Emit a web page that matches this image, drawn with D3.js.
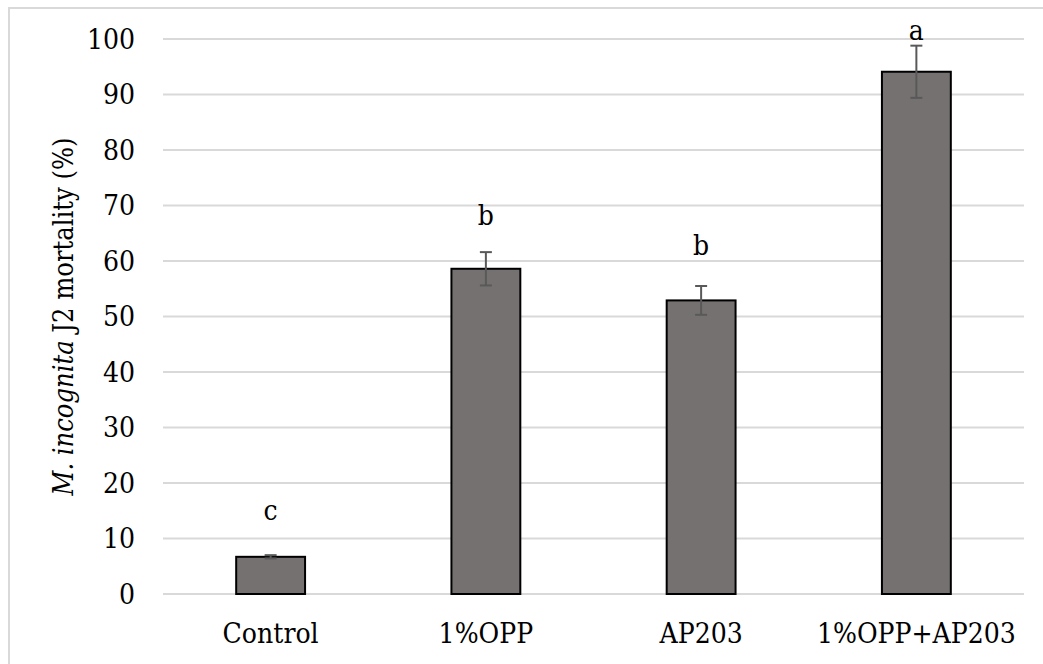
<!DOCTYPE html>
<html>
<head>
<meta charset="utf-8">
<script src="https://cdn.jsdelivr.net/npm/d3@7"></script>
<style>
  body { margin: 0; background: #fff; }
</style>
</head>
<body>
<svg id="chart" width="1043" height="664"></svg>
<script>
const categories = ["Control", "1%OPP", "AP203", "1%OPP+AP203"];
const mortality = [6.7, 58.6, 52.9, 94.1];
const errors = [0.3, 3.0, 2.6, 4.7];
const letters = ["c", "b", "b", "a"];
const letterAt = [13.4, 66.5, 61.0, 99.8];
const yTicks = [0, 10, 20, 30, 40, 50, 60, 70, 80, 90, 100];

const serif = "'DejaVu Serif Condensed', 'DejaVu Serif', serif";
const fontSize = 28;

const svg = d3.select("#chart")
  .attr("font-family", serif);

// outer chart border (only left/top visible in the picture)
svg.append("rect")
  .attr("x", 9).attr("y", 8)
  .attr("width", 1100).attr("height", 700)
  .attr("fill", "none")
  .attr("stroke", "#d9d9d9")
  .attr("stroke-width", 2);

const plotLeft = 163, plotRight = 1024, plotTop = 39, plotBottom = 594;

const x = d3.scaleBand()
  .domain(categories)
  .range([plotLeft, plotRight])
  .paddingInner(0.68)
  .paddingOuter(0.34);

const y = d3.scaleLinear()
  .domain([0, 100])
  .range([plotBottom, plotTop]);

// gridlines
svg.append("g")
  .selectAll("line")
  .data(yTicks)
  .join("line")
  .attr("x1", plotLeft).attr("x2", plotRight)
  .attr("y1", d => y(d)).attr("y2", d => y(d))
  .attr("stroke", "#d9d9d9")
  .attr("stroke-width", 2);

// y tick labels
svg.append("g")
  .selectAll("text")
  .data(yTicks)
  .join("text")
  .attr("x", 135)
  .attr("y", d => y(d))
  .attr("dy", "0.35em")
  .attr("text-anchor", "end")
  .attr("font-size", fontSize)
  .text(d => d);

// bars
svg.append("g")
  .selectAll("rect")
  .data(categories)
  .join("rect")
  .attr("x", d => x(d))
  .attr("y", (d, i) => y(mortality[i]))
  .attr("width", x.bandwidth())
  .attr("height", (d, i) => y(0) - y(mortality[i]))
  .attr("fill", "#767171")
  .attr("stroke", "#000")
  .attr("stroke-width", 2);

// error bars
const eb = svg.append("g")
  .attr("stroke", "#595959")
  .attr("stroke-width", 2);

categories.forEach((c, i) => {
  const cx = x(c) + x.bandwidth() / 2;
  const hi = y(mortality[i] + errors[i]);
  const lo = y(mortality[i] - errors[i]);
  eb.append("line").attr("x1", cx).attr("x2", cx).attr("y1", hi).attr("y2", lo);
  eb.append("line").attr("x1", cx - 6).attr("x2", cx + 6).attr("y1", hi).attr("y2", hi);
  eb.append("line").attr("x1", cx - 6).attr("x2", cx + 6).attr("y1", lo).attr("y2", lo);
});

// significance letters
svg.append("g")
  .selectAll("text")
  .data(categories)
  .join("text")
  .attr("x", d => x(d) + x.bandwidth() / 2)
  .attr("y", (d, i) => y(letterAt[i]))
  .attr("text-anchor", "middle")
  .attr("font-size", fontSize)
  .text((d, i) => letters[i]);

// x labels
svg.append("g")
  .selectAll("text")
  .data(categories)
  .join("text")
  .attr("x", d => x(d) + x.bandwidth() / 2)
  .attr("y", 643)
  .attr("text-anchor", "middle")
  .attr("font-size", fontSize)
  .text(d => d);

// y axis title
const title = svg.append("text")
  .attr("transform", `translate(73,${(plotTop + plotBottom) / 2}) rotate(-90)`)
  .attr("text-anchor", "middle")
  .attr("font-size", 27);
title.append("tspan").attr("font-style", "italic").text("M. incognita");
title.append("tspan").text(" J2 mortality (%)");
</script>
</body>
</html>
